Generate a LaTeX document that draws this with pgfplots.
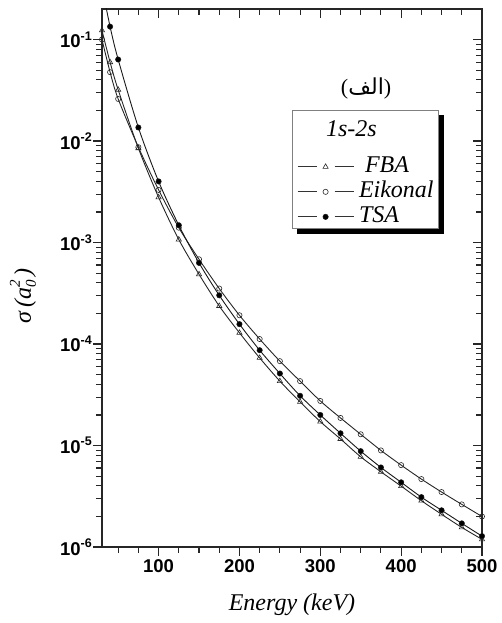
\documentclass[border=0pt]{standalone}
\usepackage{fontspec}
\setmainfont{Liberation Serif}
\setsansfont{Liberation Sans}
\newfontfamily\arabicfont[Script=Arabic]{DejaVu Sans}
\usepackage{pgfplots}
\usepackage{pgfplotstable}
\pgfplotsset{compat=1.18}
\usetikzlibrary{backgrounds}
\TeXXeTstate=1

\newcommand{\tl}[1]{\fontsize{18.5}{18.5}\selectfont\sffamily\bfseries 10\raisebox{7.5pt}{\fontsize{12.5}{12.5}\selectfont\sffamily\bfseries #1}}

\pgfplotstableread{
x     fba      eik      tsa
30    0.123    0.100    0.33
40    0.0598   0.0477   0.134
50    0.032    0.026    0.0636
75    8.5e-3   8.7e-3   0.0136
100   2.79e-3  3.3e-3   4.0e-3
125   1.07e-3  1.40e-3  1.48e-3
150   4.86e-4  6.84e-4  6.3e-4
175   2.37e-4  3.52e-4  3.02e-4
200   1.29e-4  1.92e-4  1.57e-4
225   7.3e-5   1.12e-4  8.69e-5
250   4.31e-5  6.78e-5  5.12e-5
275   2.69e-5  4.31e-5  3.09e-5
300   1.72e-5  2.75e-5  2.0e-5
325   1.16e-5  1.87e-5  1.32e-5
350   7.74e-6  1.29e-5  8.8e-6
375   5.51e-6  8.95e-6  6.08e-6
400   3.98e-6  6.41e-6  4.34e-6
425   2.86e-6  4.67e-6  3.1e-6
450   2.1e-6   3.48e-6  2.3e-6
475   1.56e-6  2.63e-6  1.71e-6
500   1.19e-6  2.0e-6   1.28e-6
}\datatable

\begin{document}
\begin{tikzpicture}
\useasboundingbox (-102pt,-76pt) rectangle (400pt,547pt);
\begin{axis}[
  at={(0pt,0pt)}, anchor=south west,
  scale only axis, width=380pt, height=538pt,
  ymode=log, xmin=30, xmax=500, ymin=1e-6, ymax=0.2,
  xtick={100,200,300,400,500},
  minor xtick={50,75,125,150,175,225,250,275,325,350,375,425,450,475},
  ytick={1e-6,1e-5,1e-4,1e-3,1e-2,1e-1},
  minor ytick={2e-6,3e-6,4e-6,5e-6,6e-6,7e-6,8e-6,9e-6,
               2e-5,3e-5,4e-5,5e-5,6e-5,7e-5,8e-5,9e-5,
               2e-4,3e-4,4e-4,5e-4,6e-4,7e-4,8e-4,9e-4,
               2e-3,3e-3,4e-3,5e-3,6e-3,7e-3,8e-3,9e-3,
               2e-2,3e-2,4e-2,5e-2,6e-2,7e-2,8e-2,9e-2},
  tick style={line width=1.1pt, black!85},
  major tick length=9pt, minor tick length=6pt,
  axis line style={line width=1.3pt, black!85},
  tick align=outside,
  xtick pos=left, ytick pos=left,
  xticklabels={100,200,300,400,500},
  xticklabel style={font=\fontsize{18.5}{18.5}\selectfont\sffamily\bfseries},
  yticklabels={\tl{-6},\tl{-5},\tl{-4},\tl{-3},\tl{-2},\tl{-1}},
  yticklabel style={inner sep=1pt},
  xlabel={Energy (keV)},
  xlabel style={font=\fontsize{24}{24}\selectfont\itshape, at={(rel axis cs:0.5,-0.108)}, anchor=center},
  ylabel={σ\,(a\makebox[0pt][l]{\raisebox{11pt}{\fontsize{15}{15}\selectfont\itshape 2}}\raisebox{-5pt}{\fontsize{15}{15}\selectfont\itshape 0}\,)},
  ylabel style={font=\fontsize{24}{24}\selectfont\itshape, at={(rel axis cs:-0.208,0.467)}, anchor=center},
  legend cell align=left,
  legend style={name=leg, at={(rel axis cs:0.50,0.812)}, anchor=north west,
    draw=none, fill=none,
    font=\fontsize{24}{24}\selectfont\itshape,
    inner xsep=5pt, inner ysep=1pt, row sep=4pt, column sep=5pt,
    nodes={inner sep=0pt, text height=16pt, text depth=5pt}},
  legend image code/.code={
    \draw[#1, mark=none, line width=0.8pt, draw=black!80] (0pt,0pt)--(19pt,0pt) (37pt,0pt)--(56pt,0pt);
    \draw[#1, only marks] plot coordinates {(28pt,0pt)};
  },
]
\addlegendimage{legend image code/.code={\path[draw=none,fill=none] (0pt,-21pt) rectangle (56pt,20pt);}}
\addlegendentry{\hspace{-33pt}1s-2s}

\addplot[black!85, line width=0.9pt, smooth, mark=triangle, mark size=3pt,
  mark options={fill=white, line width=0.6pt, solid}] table[x=x, y=fba] {\datatable};
\addlegendentry{\ FBA}

\addplot[black!85, line width=0.9pt, smooth, mark=o, mark size=2.6pt,
  mark options={fill=white, line width=0.6pt, solid}] table[x=x, y=eik] {\datatable};
\addlegendentry{Eikonal}

\addplot[black!90, line width=0.9pt, smooth, mark=*, mark size=2.7pt,
  mark options={fill=black, line width=0.5pt, solid}] table[x=x, y=tsa] {\datatable};
\addlegendentry{TSA}

\node[font=\fontsize{22}{22}\selectfont] at (rel axis cs:0.695,0.853) {({\arabicfont الف})};
\end{axis}
\begin{axis}[
  at={(0pt,0pt)}, anchor=south west,
  scale only axis, width=380pt, height=538pt,
  ymode=log, xmin=30, xmax=500, ymin=1e-6, ymax=0.2,
  xtick={100,200,300,400,500},
  minor xtick={50,75,125,150,175,225,250,275,325,350,375,425,450,475},
  ytick={1e-6,1e-5,1e-4,1e-3,1e-2,1e-1},
  minor ytick={2e-6,3e-6,4e-6,5e-6,6e-6,7e-6,8e-6,9e-6,
               2e-5,3e-5,4e-5,5e-5,6e-5,7e-5,8e-5,9e-5,
               2e-4,3e-4,4e-4,5e-4,6e-4,7e-4,8e-4,9e-4,
               2e-3,3e-3,4e-3,5e-3,6e-3,7e-3,8e-3,9e-3,
               2e-2,3e-2,4e-2,5e-2,6e-2,7e-2,8e-2,9e-2},
  tick style={line width=1.1pt, black!85},
  major tick length=9pt, minor tick length=6pt,
  axis line style={draw=none},
  tick align=inside,
  xtick pos=right, ytick pos=right,
  xticklabels={}, yticklabels={},
]
\end{axis}
\begin{pgfonlayer}{background}
  \fill[black] ([xshift=5pt,yshift=-5pt]leg.south west) rectangle ([xshift=5pt,yshift=-5pt]leg.north east);
  \filldraw[fill=white, draw=black!50, line width=0.8pt] (leg.south west) rectangle (leg.north east);
\end{pgfonlayer}
\end{tikzpicture}
\end{document}
